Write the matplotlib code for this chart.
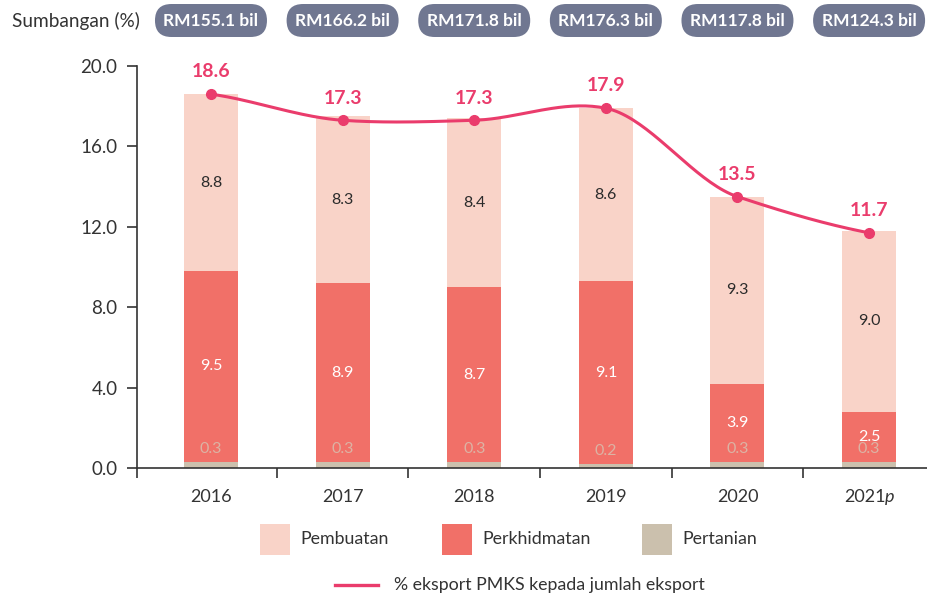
import numpy as np
import matplotlib
matplotlib.use("Agg")
import matplotlib.pyplot as plt
from matplotlib.patches import FancyBboxPatch, Rectangle
from matplotlib.lines import Line2D
import matplotlib.transforms as mtransforms

plt.rcParams['font.family'] = ['Lato', 'DejaVu Sans']

years = ['2016', '2017', '2018', '2019', '2020', '2021p']
pertanian = [0.3, 0.3, 0.3, 0.2, 0.3, 0.3]
perkhidmatan = [9.5, 8.9, 8.7, 9.1, 3.9, 2.5]
pembuatan = [8.8, 8.3, 8.4, 8.6, 9.3, 9.0]
share_pct = [18.6, 17.3, 17.3, 17.9, 13.5, 11.7]
export_value = ['RM155.1 bil', 'RM166.2 bil', 'RM171.8 bil', 'RM176.3 bil', 'RM117.8 bil', 'RM124.3 bil']
yticks = [0.0, 4.0, 8.0, 12.0, 16.0, 20.0]

C_PEMB = '#f9d3c8'
C_PERK = '#f17068'
C_PERT = '#cbc0ad'
C_LINE = '#ea3c6c'
C_PILL = '#707791'
C_TXT = '#333333'

W, H = 927, 598
fig = plt.figure(figsize=(W / 100, H / 100), dpi=100)
ax = fig.add_axes([137 / W, 130 / H, (W - 137) / W, 402 / H])

x = np.arange(len(years))
bw = 0.41
p = np.array(pertanian)
k = np.array(perkhidmatan)
m = np.array(pembuatan)
ax.bar(x, p, bw, color=C_PERT, zorder=2)
ax.bar(x, k, bw, bottom=p, color=C_PERK, zorder=2)
ax.bar(x, m, bw, bottom=p + k, color=C_PEMB, zorder=2)

for i in range(len(x)):
    ax.text(x[i], p[i] + k[i] + m[i] / 2, f'{m[i]:.1f}', ha='center', va='center',
            fontsize=11.5, color='#2b2b2b', zorder=4)
    ax.text(x[i], p[i] + k[i] / 2, f'{k[i]:.1f}', ha='center', va='center',
            fontsize=11.5, color='white', zorder=4)
    ax.annotate(f'{p[i]:.1f}', (x[i], p[i]), xytext=(0, 9), textcoords='offset points',
                ha='center', va='center', fontsize=11.5, color='#dcb3a4', zorder=4)

# smooth line (cardinal spline rendering through data points)
yv = np.array(share_pct)
n = len(yv)
tension = 0.7
tang = np.zeros(n)
tang[0] = yv[1] - yv[0]
tang[-1] = yv[-1] - yv[-2]
tang[1:-1] = (yv[2:] - yv[:-2]) / 2
tang = tang * tension
xs, ys = [], []
for i in range(n - 1):
    t = np.linspace(0, 1, 40)
    h00 = 2 * t**3 - 3 * t**2 + 1
    h10 = t**3 - 2 * t**2 + t
    h01 = -2 * t**3 + 3 * t**2
    h11 = t**3 - t**2
    xs.append(x[i] + t)
    ys.append(h00 * yv[i] + h10 * tang[i] + h01 * yv[i + 1] + h11 * tang[i + 1])
ax.plot(np.concatenate(xs), np.concatenate(ys), color=C_LINE, lw=2.2, zorder=5,
        solid_capstyle='round')
ax.plot(x, yv, 'o', color=C_LINE, ms=7, zorder=6)
for i in range(n):
    ax.annotate(f'{yv[i]:.1f}', (x[i], yv[i]), xytext=(0, 16), textcoords='offset points',
                ha='center', va='center', fontsize=14, fontweight='bold', color=C_LINE, zorder=6)

xl = -0.562
ax.set_xlim(xl, 5.44)
ax.set_ylim(0, 20)
ax.set_yticks(yticks)
ax.set_yticklabels([f'{v:.1f}' for v in yticks])
ax.set_xticks(x)
ax.set_xticklabels([])
ax.set_xticks([xl] + list(np.arange(0.5, 5, 1)), minor=True)
ax.tick_params(axis='x', which='major', length=0)
ax.tick_params(axis='x', which='minor', length=7, width=1.2, color=C_TXT, direction='out')
ax.tick_params(axis='y', length=7, width=1.2, color=C_TXT, pad=7, labelsize=13.5, labelcolor=C_TXT)
for s in ['top', 'right']:
    ax.spines[s].set_visible(False)
for s in ['left', 'bottom']:
    ax.spines[s].set_color(C_TXT)
    ax.spines[s].set_linewidth(1.2)

fig.canvas.draw()
renderer = fig.canvas.get_renderer()

# year labels (italic suffix for provisional year)
for i, lab in enumerate(years):
    if lab.endswith('p'):
        base = ax.annotate(lab[:-1], (x[i], 0), xytext=(0, -15), textcoords='offset points',
                           ha='center', va='top', fontsize=13, color=C_TXT)
        suf = ax.annotate('p', (x[i], 0), xytext=(0, -15), textcoords='offset points',
                          ha='left', va='top', fontsize=13, color=C_TXT, fontstyle='italic')
        bw_px = base.get_window_extent(renderer).width
        sw_px = suf.get_window_extent(renderer).width
        gap = -1
        tot = bw_px + sw_px + gap
        shift = -tot / 2 + bw_px / 2
        base.set_position((shift * 72 / 100, -15))
        suf.set_position(((shift + bw_px / 2 + gap) * 72 / 100, -15))
    else:
        ax.annotate(lab, (x[i], 0), xytext=(0, -15), textcoords='offset points',
                    ha='center', va='top', fontsize=13, color=C_TXT)

# top pills
fig.text(12 / W, 1 - 21 / H, 'Sumbangan (%)', ha='left', va='center', fontsize=13.7, color=C_TXT)
ident = mtransforms.IdentityTransform()
pw, ph = 112, 33
cy = H - 20.5
for i, lab in enumerate(export_value):
    cx = ax.transData.transform((x[i], 0))[0]
    patch = FancyBboxPatch((cx - pw / 2 + ph / 2, cy), pw - ph, 0,
                           boxstyle=f'round,pad={ph/2},rounding_size={ph/2}',
                           transform=ident, facecolor=C_PILL, edgecolor='none')
    fig.add_artist(patch)
    fig.text(cx / W, cy / H, lab, ha='center', va='center', fontsize=12.5,
             fontweight='bold', color='white')

# legend
row1 = H - 539
items = [(260, C_PEMB, 'Pembuatan'), (442, C_PERK, 'Perkhidmatan'), (642, C_PERT, 'Pertanian')]
for lx, col, lab in items:
    fig.add_artist(Rectangle((lx, row1 - 15.5), 30, 31, transform=ident,
                             facecolor=col, edgecolor='none'))
    fig.text((lx + 40) / W, row1 / H, lab, ha='left', va='center', fontsize=12.8, color=C_TXT)
row2 = H - 585
fig.add_artist(Line2D([335, 378], [row2, row2], transform=ident, color=C_LINE, lw=2.4))
fig.text(394 / W, row2 / H, '% eksport PMKS kepada jumlah eksport', ha='left', va='center',
         fontsize=12.8, color=C_TXT)

fig.savefig('out.png', dpi=100)
